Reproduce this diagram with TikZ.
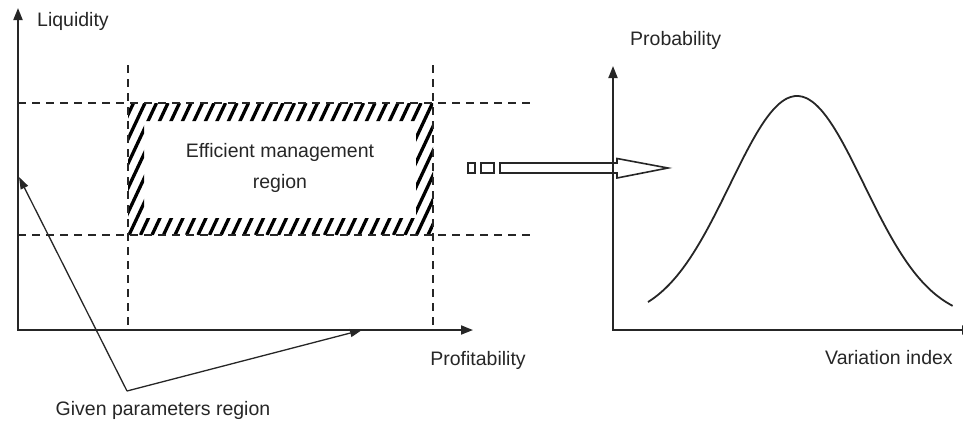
\documentclass[tikz,border=0pt]{standalone}
\usepackage{fontspec}
\setmainfont{Liberation Sans}
\usetikzlibrary{arrows.meta}
\begin{document}
\begin{tikzpicture}[x=1pt,y=-1pt,
  axis/.style={line width=1.8pt,black!85},
  guide/.style={line width=1.7pt,dash pattern=on 8pt off 6pt,black!85},
  pointer/.style={line width=1.3pt,black!85,-{Triangle[length=12pt,width=8pt]}},
  lbl/.style={font=\fontsize{19.5}{23}\selectfont,text=black!85,inner sep=0pt},
  hatchline/.style={line width=3.3pt,black}]
\useasboundingbox (0,0) rectangle (963,421);
% left axes
\coordinate (Ytop) at (18,8);
\coordinate (O1) at (18,330);
\coordinate (Xend) at (473,330);
\draw[axis,{Triangle[length=12pt,width=9pt]}-{Triangle[length=12pt,width=9pt]}] (Ytop) -- (O1) -- (Xend);
\node[lbl,anchor=west] (liq) at (37,21) {Liquidity};
\node[lbl] (prof) at (478,360) {Profitability};
% hatched region
\begin{scope}[even odd rule]
\clip (128,103) rectangle (433,235) (144,121) rectangle (416,218);
\foreach \i in {0,...,34} {
  \draw[hatchline] ({60+11.5*\i},235) -- ({60+11.5*\i+62},103);
}
\end{scope}
% dashed guides
\coordinate (v1t) at (128,65); \coordinate (v1b) at (128,330);
\coordinate (v2t) at (433,65); \coordinate (v2b) at (433,330);
\coordinate (h1l) at (18,103); \coordinate (h1r) at (530,103);
\coordinate (h2l) at (18,235); \coordinate (h2r) at (530,235);
\draw[guide] (v1t) -- (v1b);
\draw[guide] (v2t) -- (v2b);
\draw[guide] (h1l) -- (h1r);
\draw[guide] (h2l) -- (h2r);
\node[lbl,align=center,font=\fontsize{19.5}{31}\selectfont] (eff) at (280,168) {Efficient management\\region};
% given parameters pointers
\coordinate (vx) at (127,391);
\coordinate (t1) at (362,330);
\coordinate (t2) at (19,177);
\draw[pointer] (vx) -- (t1);
\draw[pointer] (vx) -- (t2);
\node[lbl] (given) at (163,410) {Given parameters region};
% hollow arrow
\draw[line width=1.6pt,black!85,fill=white] (468,163) rectangle (475,173);
\draw[line width=1.6pt,black!85,fill=white] (481,163) rectangle (494,173);
\draw[line width=1.6pt,black!85,fill=white,line join=miter]
  (500,163) -- (617,163) -- (617,158.5) -- (668,168) -- (617,178) -- (617,173) -- (500,173) -- cycle;
% right axes
\coordinate (Ytop2) at (613,66);
\coordinate (O2) at (613,330);
\coordinate (Xend2) at (974,330);
\draw[axis,{Triangle[length=12pt,width=9pt]}-{Triangle[length=12pt,width=9pt]}] (Ytop2) -- (O2) -- (Xend2);
\node[lbl,anchor=west] (prob) at (630,40) {Probability};
\node[lbl,anchor=west] (var) at (825,358) {Variation index};
% bell curve
\draw[line width=1.8pt,black!85,smooth,samples=80,domain=-2.224:2.324]
  plot ({797+67*\x},{321-225*exp(-\x*\x/2)});
\end{tikzpicture}
\end{document}
